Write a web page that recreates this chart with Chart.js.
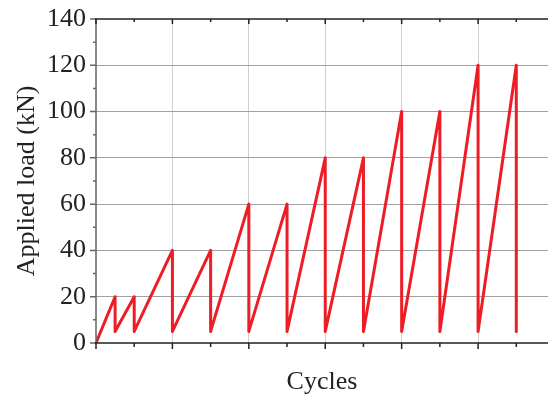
<!DOCTYPE html>
<html>
<head>
<meta charset="utf-8">
<script src="https://cdn.jsdelivr.net/npm/chart.js@4"></script>
<style>
  body { margin: 0; background: #fff; }
  #loadChart { display: block; }
</style>
</head>
<body>
<canvas id="loadChart" width="549" height="399"></canvas>
<script>
// loading protocol: x = cycle position, y = applied load (kN)
const cycleX = [0, 0.5, 0.5, 1, 1, 2, 2, 3, 3, 4, 4, 5, 5, 6, 6, 7, 7, 8, 8, 9, 9, 10, 10, 11, 11];
const loadKN = [0, 20, 5, 20, 5, 40, 5, 40, 5, 60, 5, 60, 5, 80, 5, 80, 5, 100, 5, 100, 5, 120, 5, 120, 5];
const yTicks = [0, 20, 40, 60, 80, 100, 120, 140];

const serif = "'Liberation Serif', 'DejaVu Serif', serif";

// axis lines with major/minor tick marks (top axis ticks point inward)
const axisFrame = {
    id: "axisFrame",
    afterDraw(chart) {
        const { ctx, chartArea: a, scales: { x, y } } = chart;
        ctx.save();
        ctx.lineCap = "butt";

        // left axis
        ctx.strokeStyle = "#666";
        ctx.lineWidth = 1.5;
        ctx.beginPath();
        ctx.moveTo(a.left, a.top);
        ctx.lineTo(a.left, a.bottom);
        for (let v = 0; v <= 140; v += 10) {
            const py = y.getPixelForValue(v);
            const len = v % 20 === 0 ? 6 : 3;
            ctx.moveTo(a.left, py);
            ctx.lineTo(a.left - len, py);
        }
        ctx.stroke();

        // bottom and top axes
        ctx.strokeStyle = "#222";
        ctx.beginPath();
        ctx.moveTo(a.left - 1, a.bottom);
        ctx.lineTo(a.right, a.bottom);
        ctx.moveTo(a.left - 1, a.top);
        ctx.lineTo(a.right, a.top);
        for (let v = 0; v <= 11; v += 1) {
            const px = x.getPixelForValue(v);
            const len = v % 2 === 0 ? 6 : 4;
            ctx.moveTo(px, a.bottom);
            ctx.lineTo(px, a.bottom + len);
            ctx.moveTo(px, a.top);
            ctx.lineTo(px, a.top + len - 1);
        }
        ctx.stroke();
        ctx.restore();
    }
};

new Chart(document.getElementById("loadChart"), {
    type: "line",
    data: {
        datasets: [{
            data: cycleX.map((c, i) => ({ x: c, y: loadKN[i] })),
            borderColor: "#ee1d25",
            borderWidth: 3,
            borderJoinStyle: "round",
            pointRadius: 0,
            tension: 0,
            fill: false,
        }],
    },
    options: {
        responsive: false,
        animation: false,
        layout: { padding: { top: 19, right: 1, left: 0, bottom: 0 } },
        plugins: {
            legend: { display: false },
            tooltip: { enabled: false },
        },
        scales: {
            x: {
                type: "linear",
                min: 0,
                max: 11.83,
                afterFit: (s) => { s.height = 56; s.paddingLeft = 0; s.paddingRight = 0; },
                afterBuildTicks: (s) => { s.ticks = [2, 4, 6, 8, 10].map((v) => ({ value: v })); },
                ticks: { display: false },
                border: { display: false },
                grid: { color: "#cfcfcf", lineWidth: 1, drawTicks: false },
                title: {
                    display: true,
                    text: "Cycles",
                    color: "#222",
                    font: { family: serif, size: 26 },
                    padding: { top: 0, bottom: 1 },
                },
            },
            y: {
                min: 0,
                max: 140,
                afterFit: (s) => { s.width = 96; s.paddingTop = 0; s.paddingBottom = 0; },
                afterBuildTicks: (s) => { s.ticks = yTicks.map((v) => ({ value: v })); },
                ticks: {
                    color: "#222",
                    padding: 10,
                    font: { family: serif, size: 26, lineHeight: 1 },
                },
                border: { display: false },
                grid: {
                    color: (c) => (c.tick && (c.tick.value === 0 || c.tick.value === 140) ? "rgba(0,0,0,0)" : "#a0a0a0"),
                    lineWidth: 1,
                    drawTicks: false,
                },
                title: {
                    display: true,
                    text: "Applied load (kN)",
                    color: "#222",
                    font: { family: serif, size: 26 },
                    padding: { top: 12, bottom: 0 },
                },
            },
        },
    },
    plugins: [axisFrame],
});
</script>
</body>
</html>
